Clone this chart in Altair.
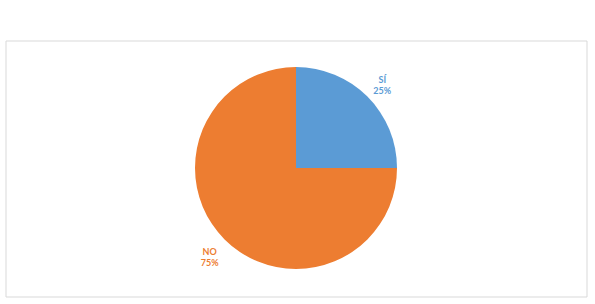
import altair as alt
import pandas as pd

categories = ["SÍ", "NO"]
values = [25, 75]
colors = ["#5B9BD5", "#ED7D31"]

df = pd.DataFrame({
    "cat": categories,
    "val": values,
    "ord": list(range(len(categories))),
})
df["label"] = [f"{c}\n{v}%" for c, v in zip(categories, values)]

W, H = 581, 256
cx, cy = 290, 127

base = alt.Chart(df).encode(
    theta=alt.Theta("val:Q", stack=True),
    order=alt.Order("ord:Q"),
    color=alt.Color("cat:N", scale=alt.Scale(domain=categories, range=colors), legend=None),
    x=alt.value(cx),
    y=alt.value(cy),
)

pie = base.mark_arc(outerRadius=101, stroke=None)
labels = base.mark_text(
    radius=122, lineBreak="\n", font="Lato", fontSize=9, fontWeight="bold",
    align="center", baseline="middle", lineHeight=11, dy=-2,
).encode(text="label:N")

frame = alt.Chart(pd.DataFrame({"f": [0]})).mark_rect(
    fill=None, stroke="#d9d9d9", strokeWidth=1
).encode(
    x=alt.value(0), x2=alt.value(W), y=alt.value(0), y2=alt.value(H)
)

chart = (frame + pie + labels).properties(
    width=W, height=H,
    padding={"left": 6, "top": 41, "right": 8, "bottom": 7},
    autosize=alt.AutoSizeParams(type="none"),
    background="white",
).configure_view(stroke=None)

chart.save("out.html", embed_options={"renderer": "svg", "actions": False})
